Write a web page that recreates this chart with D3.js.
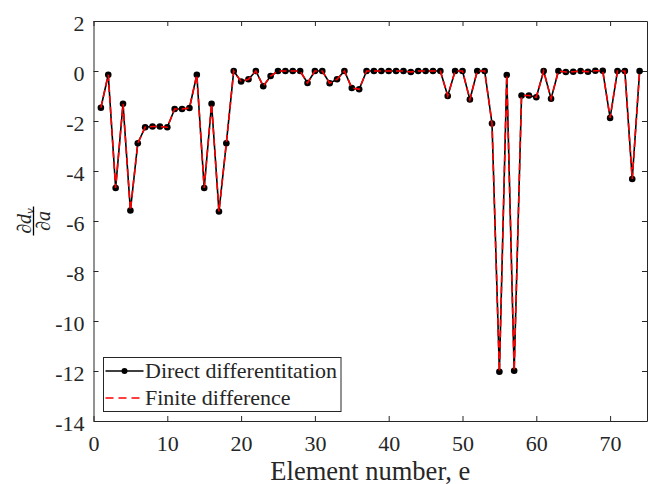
<!DOCTYPE html>
<html>
<head>
<meta charset="utf-8">
<script src="https://cdn.jsdelivr.net/npm/d3@7"></script>
<style>
  body { margin: 0; background: #fff; }
  svg text { font-family: "Liberation Serif", "Times New Roman", serif; fill: #262626; }
</style>
</head>
<body>
<div id="chart"></div>
<script>
// element numbers 1..74 and sensitivities
const elements = d3.range(1, 75);
const directDiff = [
  -1.47, -0.15, -4.68, -1.31, -5.58, -2.89, -2.25, -2.22, -2.22, -2.25,
  -1.52, -1.52, -1.48, -0.15, -4.68, -1.31, -5.62, -2.89, 0.0, -0.42,
  -0.33, 0.0, -0.61, -0.2, 0.0, 0.0, 0.0, 0.0, -0.48, 0.0,
  0.0, -0.49, -0.33, 0.0, -0.68, -0.73, 0.0, 0.0, 0.0, 0.0,
  0.0, 0.0, -0.04, 0.0, 0.0, 0.0, 0.0, -1.0, 0.0, 0.0,
  -1.14, 0.0, 0.0, -2.1, -12.03, -0.16, -11.99, -0.98, -0.98, -1.05,
  0.0, -1.11, 0.0, -0.04, -0.03, 0.0, -0.03, 0.01, 0.01, -1.88,
  0.0, 0.0, -4.32, 0.0
];
// finite difference agrees with direct differentiation to plotting accuracy
const finiteDiff = directDiff.slice();
const xTicks = [0, 10, 20, 30, 40, 50, 60, 70];
const yTicks = [2, 0, -2, -4, -6, -8, -10, -12, -14];
const legendLabels = ["Direct differentitation", "Finite difference"];

const W = 651, H = 484;
const margin = {top: 21, right: 4, bottom: 63, left: 93.5};
const width = W - margin.left - margin.right;
const height = H - margin.top - margin.bottom;
const serif = "'Liberation Serif', 'Times New Roman', serif";

const svg = d3.select("#chart").append("svg")
    .attr("width", W)
    .attr("height", H);

const g = svg.append("g")
    .attr("transform", `translate(${margin.left},${margin.top})`);

const x = d3.scaleLinear().domain([0, 75]).range([0, width]);
const y = d3.scaleLinear().domain([-14, 2]).range([height, 0]);

const axisColor = "#262626";
const tick = 5;

// axes with inward ticks, mirrored on top and right
const xAxis = g.append("g").attr("transform", `translate(0,${height})`)
    .call(d3.axisBottom(x).tickValues(xTicks).tickSizeInner(-tick).tickSizeOuter(0).tickPadding(0));
const xTop = g.append("g")
    .call(d3.axisTop(x).tickValues(xTicks).tickSizeInner(-tick).tickSizeOuter(0).tickFormat(""));
const yAxis = g.append("g")
    .call(d3.axisLeft(y).tickValues(yTicks).tickSizeInner(-tick).tickSizeOuter(0).tickPadding(8)
        .tickFormat(d => d < 0 ? "-" + Math.abs(d) : d));
const yRight = g.append("g").attr("transform", `translate(${width},0)`)
    .call(d3.axisRight(y).tickValues(yTicks).tickSizeInner(-tick).tickSizeOuter(0).tickFormat(""));

[xAxis, xTop, yAxis, yRight].forEach(a => {
    a.attr("font-family", null).attr("font-size", null);
    a.select(".domain").attr("stroke", axisColor).attr("stroke-width", 1);
    a.selectAll(".tick line").attr("stroke", axisColor);
    a.selectAll(".tick text")
        .style("font-family", serif)
        .style("font-size", "22px")
        .attr("fill", axisColor);
});
xAxis.selectAll(".tick text").attr("y", 30).attr("dy", null);
yAxis.selectAll(".tick text").attr("dy", "0.42em").attr("x", -9);

// series lines
const line = d3.line()
    .x((d, i) => x(elements[i]))
    .y(d => y(d));

g.append("path")
    .datum(directDiff)
    .attr("fill", "none")
    .attr("stroke", "#000")
    .attr("stroke-width", 1.6)
    .attr("d", line);

g.selectAll(".dot")
    .data(directDiff)
    .join("circle")
    .attr("class", "dot")
    .attr("cx", (d, i) => x(elements[i]))
    .attr("cy", d => y(d))
    .attr("r", 3.3)
    .attr("fill", "#000");

g.append("path")
    .datum(finiteDiff)
    .attr("fill", "none")
    .attr("stroke", "#ff0000")
    .attr("stroke-width", 1.6)
    .attr("stroke-dasharray", "7,4")
    .attr("d", line);

// legend
const legend = svg.append("g").attr("transform", "translate(103.5,357.5)");
legend.append("rect")
    .attr("width", 237.5)
    .attr("height", 54)
    .attr("fill", "#fff")
    .attr("stroke", axisColor)
    .attr("stroke-width", 1);

const rows = legend.selectAll(".row")
    .data(legendLabels)
    .join("g")
    .attr("transform", (d, i) => `translate(0,${13.5 + i * 27})`);

rows.append("line")
    .attr("x1", 2).attr("x2", 40)
    .attr("stroke", (d, i) => i === 0 ? "#000" : "#ff0000")
    .attr("stroke-width", 1.5)
    .attr("stroke-dasharray", (d, i) => i === 0 ? null : "8,5");
rows.filter((d, i) => i === 0).append("circle")
    .attr("cx", 21).attr("r", 3).attr("fill", "#000");
rows.append("text")
    .attr("x", 41.5)
    .attr("dy", "0.33em")
    .style("font-family", serif)
    .style("font-size", "22px")
    .text(d => d);

// x label
svg.append("text")
    .attr("x", margin.left + width / 2)
    .attr("y", 479.5)
    .attr("text-anchor", "middle")
    .style("font-family", serif)
    .style("font-size", "26.5px")
    .text("Element number, e");

// y label: fraction ∂d_v / ∂a, rotated
const yl = svg.append("g").attr("transform", "translate(33.5,221) rotate(-90)");
const num = yl.append("text")
    .attr("text-anchor", "middle")
    .attr("y", -3)
    .style("font-family", serif)
    .style("font-size", "20px")
    .attr("font-style", "italic");
num.append("tspan").text("∂d");
num.append("tspan").style("font-size", "13px").attr("dy", 3).text("v");
yl.append("line")
    .attr("x1", -14.5).attr("x2", 14.5)
    .attr("stroke", "#000").attr("stroke-width", 1.3);
yl.append("text")
    .attr("text-anchor", "middle")
    .attr("y", 16)
    .style("font-family", serif)
    .style("font-size", "20px")
    .attr("font-style", "italic")
    .text("∂a");
</script>
</body>
</html>
